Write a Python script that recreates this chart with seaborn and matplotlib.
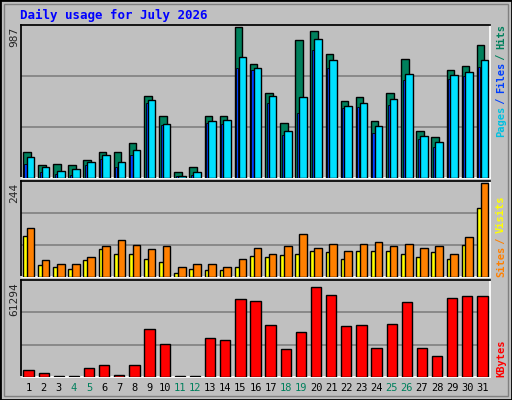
import numpy as np
import matplotlib
matplotlib.use('Agg')
import matplotlib.pyplot as plt
import seaborn as sns
from matplotlib.patches import Rectangle

# data
days = list(range(1, 32))
weekend = [4, 5, 11, 12, 18, 19, 25, 26]
hits = [169, 82, 89, 82, 115, 169, 169, 229, 535, 408, 36, 69, 402, 402, 987, 748,
        555, 362, 901, 961, 808, 502, 528, 375, 555, 781, 309, 269, 708, 735, 868]
files = [135, 69, 49, 56, 102, 149, 102, 182, 508, 355, 16, 42, 375, 382, 788, 722,
         535, 309, 528, 908, 768, 468, 488, 342, 515, 682, 275, 235, 675, 695, 768]
pages = [89, 42, 29, 22, 82, 122, 75, 149, 488, 349, 16, 22, 362, 355, 722, 708,
         488, 282, 422, 835, 722, 455, 462, 295, 475, 642, 255, 202, 648, 668, 728]
sites = [127, 43, 35, 35, 51, 80, 96, 83, 72, 80, 25, 35, 35, 27, 46, 75,
         61, 80, 112, 75, 85, 67, 85, 90, 80, 85, 75, 80, 61, 104, 244]
visits = [106, 30, 25, 22, 43, 72, 61, 61, 48, 40, 11, 22, 17, 17, 27, 54,
          51, 56, 61, 67, 64, 48, 69, 69, 69, 61, 51, 64, 46, 83, 180]
kbytes = [4921, 2908, 600, 600, 6264, 8277, 1566, 8277, 32437, 22370, 600, 600,
          26397, 25054, 52570, 51227, 35121, 19015, 30423, 61294, 55925, 34450,
          35121, 19686, 35792, 50556, 19686, 14317, 53241, 54583, 55254]

sns.set_theme(style='white')
plt.rcParams['font.family'] = ['DejaVu Sans Mono']

W, H = 512, 400
fig = plt.figure(figsize=(W / 100, H / 100), dpi=100)
fig.patch.set_facecolor('#c0c0c0')

# bevelled border
fig.patches.append(Rectangle((0, 0), 1, 1, transform=fig.transFigure, fill=False,
                             edgecolor='black', lw=2))
fig.patches.append(Rectangle((4 / W, 4 / H), 1 - 8 / W, 1 - 8 / H, transform=fig.transFigure,
                             fill=False, edgecolor='#808080', lw=1))

L, R = 21 / W, 490 / W


def panel(top, bottom):
    ax = fig.add_axes([L, 1 - bottom / H, R - L, (bottom - top) / H])
    ax.set_facecolor('#c0c0c0')
    ax.set_xlim(0.5, 31.5)
    ax.set_xticks([])
    ax.set_yticks([])
    for s in ax.spines.values():
        s.set_color('black')
    ax.spines['right'].set_color('white')
    ax.spines['bottom'].set_color('white')
    return ax


x = np.array(days)
kw = dict(edgecolor='black', linewidth=1, zorder=3)

ax1 = panel(25, 178)
ax1.set_ylim(0, 1000)
for g in (1000 / 3, 2000 / 3):
    ax1.axhline(g, color='#808080', lw=1.2, zorder=1)
ax1.bar(x - 0.12, hits, width=0.5, color='#00805c', **kw)
ax1.bar(x - 0.2, pages, width=0.14, color='#0040ff', edgecolor='black', linewidth=0.6, zorder=3)
ax1.bar(x + 0.13, files, width=0.5, color='#00e0ff', **kw)

ax2 = panel(181, 277)
ax2.set_ylim(0, 250)
for g in (250 / 3, 500 / 3):
    ax2.axhline(g, color='#808080', lw=1.2, zorder=1)
ax2.bar(x - 0.12, visits, width=0.5, color='#ffff00', **kw)
ax2.bar(x + 0.13, sites, width=0.5, color='#ff8000', **kw)

ax3 = panel(280, 377)
top3 = 65770
for g in (top3 / 3, 2 * top3 / 3):
    ax3.axhline(g, color='#808080', lw=1.2, zorder=1)
sns.barplot(x=[d - 1 for d in days], y=kbytes, color='#ff0000', edgecolor='black',
            linewidth=1, width=0.68, saturation=1, native_scale=True, ax=ax3, zorder=3)
ax3.set_xlim(-0.5, 30.5)
ax3.set_ylim(0, top3)
ax3.set_xticks([])
ax3.set_ylabel('')

fig.text(20 / W, 1 - 15 / H, 'Daily usage for July 2026', color='#0000ff',
         fontsize=9, fontweight='bold', va='center')

for txt, top in (('987', 27), ('244', 183), ('61294', 282)):
    fig.text(14 / W, 1 - top / H, txt, rotation=90, fontsize=8, va='top', ha='center')


def side(parts, bottom):
    y = 1 - bottom / H
    for t, c in parts:
        fig.text(501 / W, y, t, rotation=90, fontsize=7.5, color=c, fontweight='bold',
                 ha='center', va='bottom')
        y += (len(t) * 5.5) / H


side([('Pages', '#00c0e0'), (' / ', '#0040ff'), ('Files', '#0040ff'), (' / ', '#00805c'),
      ('Hits', '#00805c')], 137)
side([('Sites', '#ff8000'), (' / ', '#ff8000'), ('Visits', '#ffff00')], 277)
side([('KBytes', '#ff0000')], 377)

for d in days:
    xf = L + (d - 0.5) / 31 * (R - L)
    fig.text(xf, 1 - 388 / H, str(d), fontsize=7.5, ha='center', va='center',
             color='#00805c' if d in weekend else 'black')

fig.savefig('out.png', dpi=100, facecolor=fig.get_facecolor())
